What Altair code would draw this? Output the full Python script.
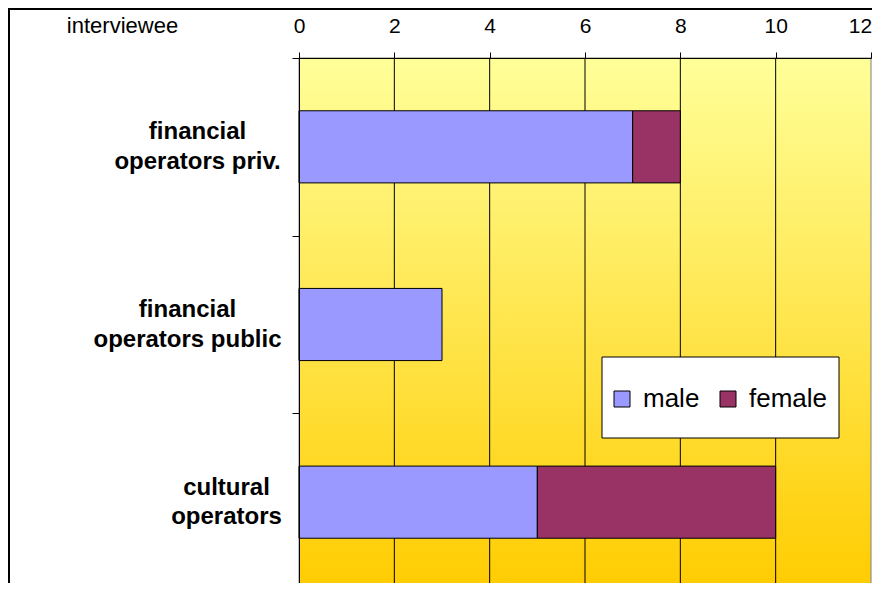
import altair as alt
import pandas as pd

# ---- data ----
categories = ["financial operators priv.", "financial operators public", "cultural operators"]
male = [7, 3, 5]
female = [1, 0, 5]
genders = ["male", "female"]
colors = ["#9999FF", "#993366"]
x_ticks = [0, 2, 4, 6, 8, 10, 12]
grid_ticks = [2, 4, 6, 8, 10]

rows = []
for c, m, f in zip(categories, male, female):
    rows.append({"category": c, "gender": "male", "count": m})
    rows.append({"category": c, "gender": "female", "count": f})
df = pd.DataFrame(rows)

W = 572          # plot width
H_VIEW = 525     # visible view height inside the page
H_FULL = 533     # full extent of the category bands (runs past the page bottom)
FONT = "Liberation Sans"

x_scale = alt.Scale(domain=[0, 12], nice=False, zero=True)
y_scale = alt.Scale(range=[0, H_FULL], paddingInner=0, paddingOuter=0)

x_axis = alt.Axis(
    orient="top", values=x_ticks, grid=False, domainColor="black", tickColor="black",
    tickSize=6, labelFontSize=21, labelColor="black", labelPadding=15.5, zindex=1,
    labelFlush=False, labelOverlap=False, labelFont=FONT,
    labelOffset={"condition": {"test": "datum.value === 12", "value": -11}, "value": 0},
)

y_axis = alt.Axis(
    orient="left", tickBand="extent", tickSize=7, tickColor="black", domainColor="black",
    labelFontSize=24, labelFontWeight="bold", labelColor="black", labelAlign="center",
    labelLineHeight=29.5, labelLimit=0, labelFont=FONT, zindex=1, labelOffset=-15,
    labelExpr="[slice(datum.label, 0, indexof(datum.label, ' ')), slice(datum.label, indexof(datum.label, ' ') + 1)]",
    labelPadding={"condition": [
        {"test": "datum.value === 'cultural operators'", "value": 66},
        {"test": "datum.value === 'financial operators public'", "value": 105},
    ], "value": 95},
    title="interviewee", titleAngle=0, titleX=-177, titleY=-26, titleAlign="center",
    titleBaseline="alphabetic", titleFontSize=22, titleFontWeight="normal",
    titleColor="black", titleFont=FONT,
)

legend = alt.Legend(
    orient="none", legendX=310, legendY=328, direction="horizontal", title=None,
    symbolType="square", symbolSize=256, symbolStrokeColor="black", symbolStrokeWidth=1,
    labelFontSize=26, labelColor="black", labelOffset=8, columnPadding=15, padding=0,
    labelFont=FONT, symbolOpacity=1,
)

background = alt.Chart(alt.Data(values=[{}])).mark_rect(
    fill=alt.LinearGradient(
        gradient="linear", x1=0, y1=0, x2=0, y2=1,
        stops=[alt.GradientStop(color="#FFFF99", offset=0),
               alt.GradientStop(color="#FFCC00", offset=1)],
    ),
    stroke="#808080", strokeWidth=1,
).encode(x=alt.value(0), x2=alt.value("width"), y=alt.value(0), y2=alt.value(H_FULL))

grid = alt.Chart(pd.DataFrame({"t": grid_ticks})).mark_rule(color="black", strokeWidth=1).encode(
    x=alt.X("t:Q", scale=x_scale, axis=x_axis, title=None),
    y=alt.value(0), y2=alt.value(H_FULL),
)

bars = alt.Chart(df).transform_filter("datum.count > 0").transform_calculate(
    ord="indexof(['male','female'], datum.gender)"
).mark_bar(stroke="black", strokeWidth=1, height=alt.RelativeBandSize(0.406)).encode(
    x=alt.X("count:Q", scale=x_scale, axis=x_axis, title=None, stack="zero"),
    y=alt.Y("category:N", sort=categories, scale=y_scale, axis=y_axis),
    color=alt.Color("gender:N", scale=alt.Scale(domain=genders, range=colors), legend=legend),
    order=alt.Order("ord:Q"),
)

legend_box = alt.Chart(alt.Data(values=[{}])).mark_rect(
    fill="white", stroke="black", strokeWidth=1
).encode(x=alt.value(303), x2=alt.value(540), y=alt.value(299), y2=alt.value(380))

frame = alt.Chart(alt.Data(values=[{}])).mark_rect(
    filled=False, stroke="black", strokeWidth=2
).encode(x=alt.value(-290), x2=alt.value(W + 40), y=alt.value(-49), y2=alt.value(H_FULL + 40))

chart = alt.layer(background, grid, bars, legend_box, frame).properties(
    width=W, height=H_VIEW,
    autosize=alt.AutoSizeParams(type="none"),
    padding={"left": 291, "top": 50, "right": 1, "bottom": 0},
    background="white",
).configure(font=FONT).configure_view(stroke=None)

chart.save("out.html", embed_options={"renderer": "svg", "actions": False})
